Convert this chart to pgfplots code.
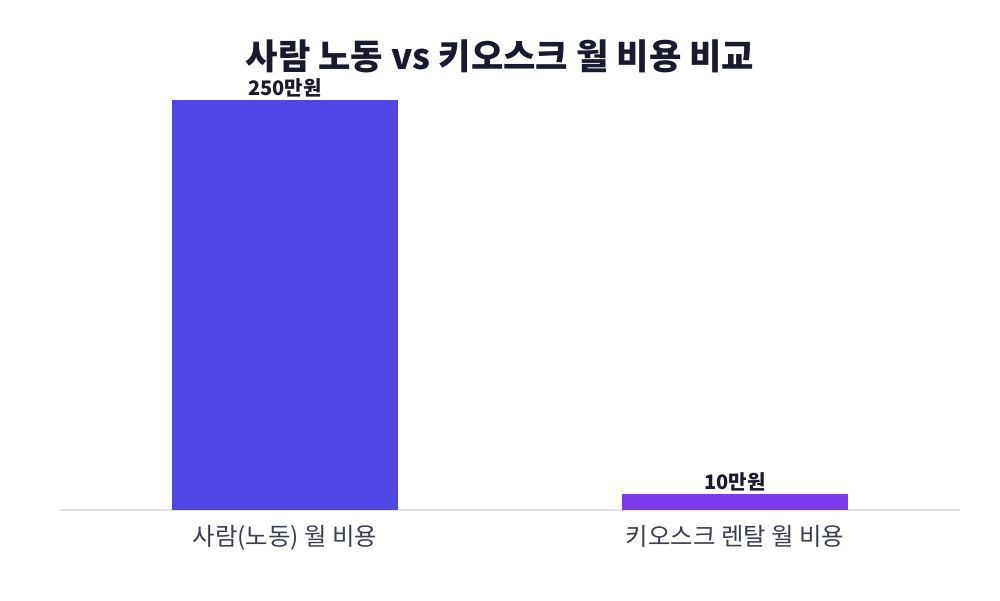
\documentclass[border=0pt]{standalone}
\usepackage{pgfplots}
\pgfplotsset{compat=1.18}
\usepackage{fontspec}
\setmainfont{Noto Sans CJK KR}
\definecolor{titlec}{HTML}{1A1A2E}
\definecolor{tickc}{HTML}{3A3F4F}
\definecolor{basec}{HTML}{E2E2E8}
\definecolor{barA}{HTML}{4F46E5}
\definecolor{barB}{HTML}{7C3AED}
\begin{document}
\begin{tikzpicture}
% page: 1000x600 px, 1px = 0.5pt
\path[use as bounding box] (0,0) rectangle (500pt,300pt);
\begin{axis}[
	at={(30pt,45pt)}, anchor=south west,
	scale only axis,
	width=450pt, height=210pt,
	ybar, bar width=0.502, bar shift=0pt,
	xmin=-0.5, xmax=1.5,
	ymin=0, ymax=256.1,
	axis x line=bottom, hide y axis,
	x axis line style={draw=basec, line width=1pt, -},
	xtick={0,1}, major tick length=0pt,
	xticklabels={사람(노동) 월 비용, 키오스크 렌탈 월 비용},
	xticklabel style={font=\fontsize{12.2}{14}\selectfont, text=tickc, yshift=-4pt},
	/pgf/number format/assume math mode=true,
	nodes near coords={\pgfmathprintnumber{\pgfplotspointmeta}만원},
	nodes near coords style={font=\bfseries\fontsize{10}{12}\selectfont, text=titlec, anchor=south, inner sep=1pt, yshift=0pt},
	]
	\addplot[fill=barA, draw=none] coordinates {(0,250)};
	\addplot[fill=barB, draw=none] coordinates {(1,10)};
\end{axis}
\node[font=\bfseries\fontsize{17.6}{21}\selectfont, text=titlec] at (250pt,272pt) {사람 노동 vs 키오스크 월 비용 비교};
\end{tikzpicture}
\end{document}
